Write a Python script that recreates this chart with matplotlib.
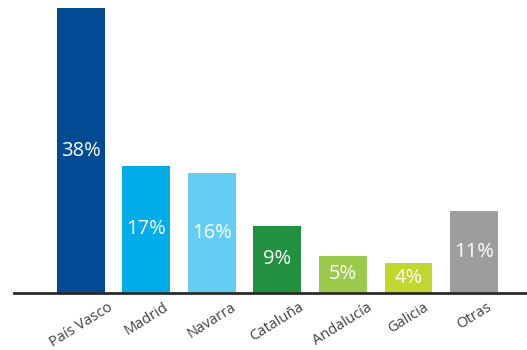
import matplotlib
matplotlib.use("Agg")
import matplotlib.pyplot as plt

# ───────── DATA ─────────
regions = ["País Vasco", "Madrid", "Navarra", "Cataluña", "Andalucía", "Galicia", "Otras"]
shares  = [38, 17, 16, 9, 5, 4, 11]
colors  = ["#004B93", "#00ADE8", "#64CDF3", "#21903F", "#9BC94B", "#C1D72F", "#9D9D9D"]
# ────────────────────────

plt.rcParams['font.family'] = ['Open Sans', 'DejaVu Sans']

fig = plt.figure(figsize=(5.27, 3.5), dpi=100)
ax = fig.add_axes([14/527, 1 - 293/350, 513/527, 285/350])

x = range(len(regions))
bars = ax.bar(x, shares, width=0.73, color=colors)

for rect, v in zip(bars, shares):
    ax.text(rect.get_x() + rect.get_width() / 2, v / 2, f"{v}%",
            ha='center', va='center', color='white', fontsize=14.5)

ax.set_xlim(-1.02, 6.81)
ax.set_ylim(0, 38)
ax.set_xticks(list(x))
ax.set_xticklabels(regions, rotation=32, ha='center', fontsize=10.5, color='#404040')
ax.tick_params(axis='x', length=0, pad=5)
ax.set_yticks([])

for s in ('top', 'right', 'left'):
    ax.spines[s].set_visible(False)
ax.spines['bottom'].set_color('#2b2b2b')
ax.spines['bottom'].set_linewidth(2)

fig.savefig("out.png", dpi=100)
